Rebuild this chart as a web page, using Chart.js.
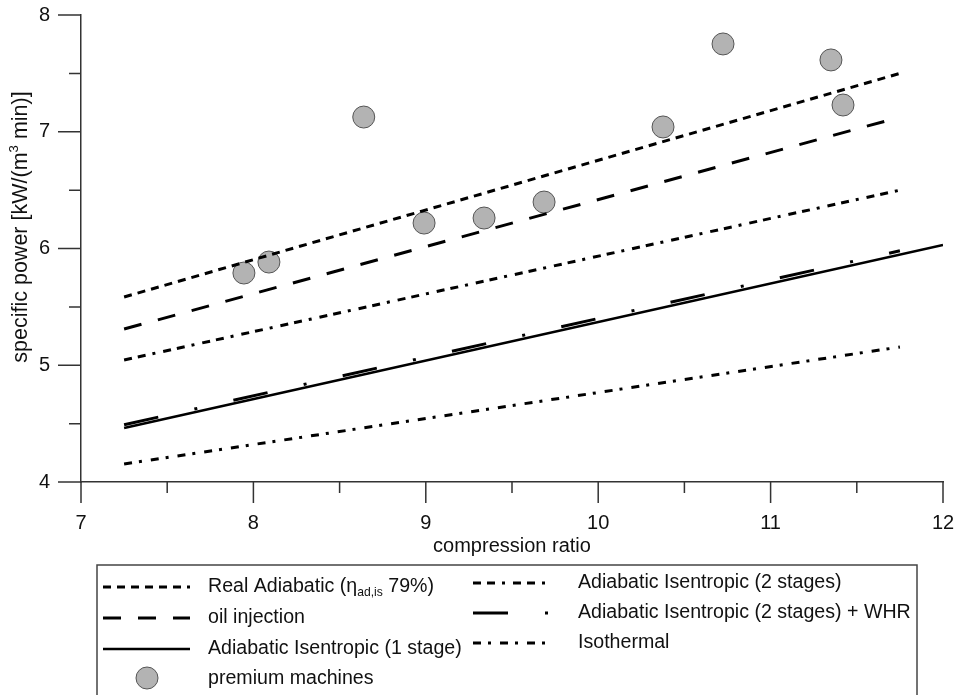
<!DOCTYPE html>
<html>
<head>
<meta charset="utf-8">
<title>specific power vs compression ratio</title>
<script src="https://cdn.jsdelivr.net/npm/chart.js@4.4.1/dist/chart.umd.min.js"></script>
<style>
	html, body { margin: 0; padding: 0; background: #fff; }
	canvas { display: block; }
</style>
</head>
<body>
<canvas id="powerChart" width="956" height="695"></canvas>
<script>
// compression ratio at the ends of the model lines
var lineX = [7.25, 11.75];
var oneStageX = [7.25, 12];

// specific power [kW/(m3 min)] at those ends
var realAdiabatic = [5.585, 7.50];
var oilInjection = [5.31, 7.125];
var oneStage = [4.463, 6.03];
var twoStages = [5.045, 6.50];
var twoStagesWhr = [4.49, 5.98];
var isothermal = [4.154, 5.156];

// measured machines
var premiumX = [7.945, 8.09, 8.64, 8.99, 9.338, 9.686, 10.376, 10.724, 11.35, 11.42];
var premiumY = [5.79, 5.884, 7.126, 6.218, 6.261, 6.398, 7.041, 7.752, 7.615, 7.229];

var xTicks = [7, 8, 9, 10, 11, 12];
var yTicks = [4, 5, 6, 7, 8];

var FONT = '"Liberation Sans", Arial, sans-serif';

function pairs(xs, ys) {
	return xs.map(function(x, i) { return { x: x, y: ys[i] }; });
}

function lineSet(label, xs, ys, dash, width) {
	return {
		label: label,
		data: pairs(xs, ys),
		showLine: true,
		borderColor: '#000',
		borderWidth: width || 3,
		borderDash: dash,
		borderCapStyle: 'butt',
		pointRadius: 0,
		pointHoverRadius: 0,
		tension: 0,
		order: 1
	};
}

// text with _{sub} and ^{sup} parts
function drawRich(ctx, text, x, y, size, align) {
	var parts = text.split(/(_\{[^}]*\}|\^\{[^}]*\})/).filter(function(p) { return p.length; });
	var pieces = parts.map(function(p) {
		if (p.charAt(0) === '_' && p.charAt(1) === '{') return { t: p.slice(2, -1), s: size * 0.62, dy: size * 0.3 };
		if (p.charAt(0) === '^' && p.charAt(1) === '{') return { t: p.slice(2, -1), s: size * 0.62, dy: -size * 0.32 };
		return { t: p, s: size, dy: 0 };
	});
	var total = 0;
	pieces.forEach(function(p) {
		ctx.font = p.s + 'px ' + FONT;
		p.w = ctx.measureText(p.t).width;
		total += p.w;
	});
	var cx = align === 'center' ? x - total / 2 : x;
	ctx.textAlign = 'left';
	ctx.textBaseline = 'middle';
	pieces.forEach(function(p) {
		ctx.font = p.s + 'px ' + FONT;
		ctx.fillText(p.t, cx, y + p.dy);
		cx += p.w;
	});
}

var decorPlugin = {
	id: 'decor',
	afterDraw: function(chart) {
		var ctx = chart.ctx,
			xs = chart.scales.x,
			ys = chart.scales.y,
			v, p;

		ctx.save();
		ctx.strokeStyle = '#333';
		ctx.lineWidth = 1.5;
		ctx.setLineDash([]);

		// outside ticks, long on whole numbers, short on halves
		ctx.beginPath();
		for (v = xs.min; v <= xs.max + 1e-9; v += 0.5) {
			p = xs.getPixelForValue(v);
			ctx.moveTo(p, xs.top);
			ctx.lineTo(p, xs.top + (v % 1 === 0 ? 21 : 11));
		}
		for (v = ys.min; v <= ys.max + 1e-9; v += 0.5) {
			p = ys.getPixelForValue(v);
			ctx.moveTo(ys.right, p);
			ctx.lineTo(ys.right - (v % 1 === 0 ? 23 : 12), p);
		}
		ctx.stroke();

		// y title
		ctx.fillStyle = '#111';
		ctx.save();
		ctx.translate(21, 227);
		ctx.rotate(-Math.PI / 2);
		drawRich(ctx, 'specific power [kW/(m^{3} min)]', 0, 0, 21.5, 'center');
		ctx.restore();

		// legend box
		ctx.strokeStyle = '#444';
		ctx.lineWidth = 1.5;
		ctx.strokeRect(97, 565, 820, 200);

		var cols = [
			{ x0: 103, x1: 190, tx: 208, rows: [587, 618, 649, 679] },
			{ x0: 473, x1: 552, tx: 578, rows: [583, 613, 643] }
		];
		chart.data.datasets.forEach(function(ds, i) {
			var col = i < 4 ? cols[0] : cols[1],
				y = col.rows[i < 4 ? i : i - 4];
			if (ds.showLine) {
				ctx.strokeStyle = ds.borderColor;
				ctx.lineWidth = ds.borderWidth;
				ctx.setLineDash(ds.borderDash || []);
				ctx.beginPath();
				ctx.moveTo(col.x0, y);
				ctx.lineTo(col.x1, y);
				ctx.stroke();
				ctx.setLineDash([]);
			} else {
				ctx.fillStyle = ds.pointBackgroundColor;
				ctx.strokeStyle = ds.pointBorderColor;
				ctx.lineWidth = ds.pointBorderWidth;
				ctx.beginPath();
				ctx.arc((col.x0 + col.x1) / 2 + 0.5, y - 1, ds.pointRadius, 0, Math.PI * 2);
				ctx.fill();
				ctx.stroke();
			}
			ctx.fillStyle = '#111';
			drawRich(ctx, ds.label, col.tx, y, 19.6, 'left');
		});
		ctx.restore();
	}
};

Chart.defaults.font.family = FONT;
Chart.defaults.color = '#111';

var chart = new Chart(document.getElementById('powerChart').getContext('2d'), {
	type: 'scatter',
	data: {
		datasets: [
			lineSet('Real Adiabatic (η_{ad,is} 79%)', lineX, realAdiabatic, [8, 6]),
			lineSet('oil injection', lineX, oilInjection, [18, 17]),
			lineSet('Adiabatic Isentropic (1 stage)', oneStageX, oneStage, [], 2.5),
			{
				label: 'premium machines',
				data: pairs(premiumX, premiumY),
				showLine: false,
				pointRadius: 11,
				pointHoverRadius: 11,
				pointBackgroundColor: '#b3b3b3',
				pointBorderColor: '#555',
				pointBorderWidth: 1,
				order: 5
			},
			lineSet('Adiabatic Isentropic (2 stages)', lineX, twoStages, [8, 6, 8, 7, 3, 8]),
			lineSet('Adiabatic Isentropic (2 stages) + WHR', lineX, twoStagesWhr, [35, 37, 3, 37]),
			lineSet('Isothermal', lineX, isothermal, [8, 7, 3, 9])
		]
	},
	options: {
		responsive: false,
		animation: false,
		layout: { padding: { left: 0, top: 15, right: 13, bottom: 133 } },
		plugins: {
			legend: { display: false },
			tooltip: { enabled: false }
		},
		scales: {
			x: {
				type: 'linear',
				min: 7,
				max: 12,
				afterBuildTicks: function(scale) {
					scale.ticks = xTicks.map(function(v) { return { value: v }; });
				},
				afterFit: function(scale) {
					scale.height = 80;
					scale.paddingLeft = 0;
					scale.paddingRight = 0;
				},
				grid: { display: false, drawTicks: false },
				border: { display: true, color: '#333', width: 1.5 },
				ticks: { padding: 29, font: { size: 20 }, maxRotation: 0 },
				title: {
					display: true,
					text: 'compression ratio',
					font: { size: 20 },
					padding: { top: 0, bottom: 4 }
				}
			},
			y: {
				type: 'linear',
				min: 4,
				max: 8,
				afterBuildTicks: function(scale) {
					scale.ticks = yTicks.map(function(v) { return { value: v }; });
				},
				afterFit: function(scale) {
					scale.width = 81;
					scale.paddingTop = 0;
					scale.paddingBottom = 0;
				},
				grid: { display: false, drawTicks: false },
				border: { display: true, color: '#333', width: 1.5 },
				ticks: { padding: 31, font: { size: 20 } }
			}
		}
	},
	plugins: [decorPlugin]
});
</script>
</body>
</html>
